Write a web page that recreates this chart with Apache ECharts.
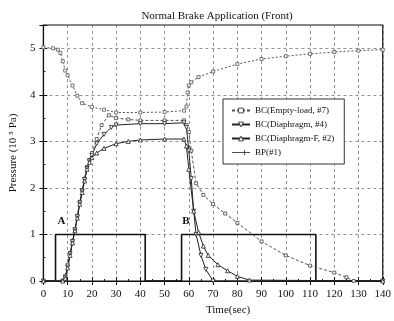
<!DOCTYPE html>
<html>
<head>
<meta charset="utf-8">
<script src="https://cdn.jsdelivr.net/npm/echarts@6/dist/echarts.min.js"></script>
<style>
  html, body { margin: 0; padding: 0; background: #fff; }
  #chart { width: 394px; height: 321px; }
</style>
</head>
<body>
<div id="chart"></div>
<script>
// time (sec) and pressure (10^5 Pa)
const tEmpty = [0, 8, 9, 10, 11, 12, 13, 14, 15, 16, 17, 18, 19, 20, 22, 24, 27, 30, 35, 40, 50, 58, 59, 60, 61, 63, 66, 70, 75, 80, 90, 100, 110, 120, 125, 128, 140];
const pEmpty = [0, 0, 0.1, 0.35, 0.6, 0.85, 1.1, 1.4, 1.7, 1.95, 2.2, 2.45, 2.6, 2.75, 3.05, 3.35, 3.56, 3.5, 3.47, 3.45, 3.45, 3.45, 3.35, 3.2, 2.8, 2.1, 1.85, 1.65, 1.45, 1.25, 0.85, 0.55, 0.33, 0.18, 0.08, 0, 0];

const tDia = [0, 8, 9, 10, 11, 12, 13, 14, 15, 16, 17, 18, 19, 20, 22, 25, 28, 30, 40, 50, 58, 59, 60, 61, 62, 63, 65, 67, 70, 140];
const pDia = [0, 0, 0.08, 0.3, 0.58, 0.85, 1.1, 1.38, 1.68, 1.93, 2.18, 2.42, 2.58, 2.7, 2.95, 3.15, 3.3, 3.35, 3.38, 3.38, 3.4, 3.3, 2.8, 2.2, 1.5, 1.0, 0.55, 0.25, 0, 0];

const tDiaF = [0, 8, 9, 10, 11, 12, 13, 14, 15, 16, 17, 18, 19, 20, 22, 25, 30, 35, 40, 50, 58, 59, 60, 62, 64, 66, 68, 72, 76, 80, 85, 140];
const pDiaF = [0, 0, 0.06, 0.28, 0.55, 0.82, 1.08, 1.35, 1.65, 1.9, 2.15, 2.4, 2.55, 2.65, 2.75, 2.85, 2.95, 3.0, 3.03, 3.05, 3.05, 2.9, 2.4, 1.5, 1.05, 0.75, 0.55, 0.35, 0.22, 0.1, 0.02, 0];

const tBP = [0, 4, 6, 7, 8, 9, 10, 12, 14, 16, 20, 25, 30, 40, 50, 58, 59, 59.5, 60, 61, 64, 70, 80, 90, 100, 110, 120, 130, 140];
const pBP = [5.02, 5.0, 4.97, 4.9, 4.72, 4.52, 4.42, 4.2, 3.98, 3.82, 3.74, 3.68, 3.62, 3.62, 3.63, 3.66, 3.75, 4.05, 4.2, 4.27, 4.38, 4.5, 4.66, 4.77, 4.83, 4.88, 4.92, 4.95, 4.97];

// brake command steps A and B
const tCmd = [0, 5, 5, 42, 42, 57, 57, 112.4, 112.4, 140];
const pCmd = [0, 0, 1, 1, 0, 0, 1, 1, 0, 0];

const xTicks = [0, 140, 10];
const yTicks = [0, 5.5, 1];

const pairs = (t, p) => t.map((x, i) => [x, p[i]]);

const font = 'Liberation Serif';
const chart = echarts.init(document.getElementById('chart'), null, { renderer: 'canvas' });

const lineSeries = (name, t, p, opts) => Object.assign({
  name,
  type: 'line',
  data: pairs(t, p),
  symbolSize: 4,
  showAllSymbol: true,
  itemStyle: { color: '#fff', borderColor: '#222', borderWidth: 0.8 },
  lineStyle: { color: '#222', width: 1 },
  color: '#222',
  z: 3
}, opts);

chart.setOption({
  animation: false,
  backgroundColor: '#fff',
  title: {
    text: 'Normal Brake Application (Front)',
    left: 212, top: 6, textAlign: 'center',
    textStyle: { fontFamily: font, fontSize: 11, fontWeight: 'normal', color: '#111' }
  },
  grid: { left: 42, right: 7, top: 25, bottom: 40, show: true, borderColor: '#111', borderWidth: 1.2 },
  legend: {
    orient: 'vertical', left: 223, top: 99,
    padding: [7, 10, 7, 8],
    itemGap: 5, itemWidth: 18, itemHeight: 6,
    backgroundColor: '#fff', borderColor: '#333', borderWidth: 1,
    itemStyle: { color: '#fff', borderColor: '#222', borderWidth: 0.8 },
    textStyle: { fontFamily: font, fontSize: 9, color: '#111' },
    data: ['BC(Empty-load, #7)', 'BC(Diaphragm, #4)', 'BC(Diaphragm-F, #2)',
      { name: 'BP(#1)', icon: 'path://M0,5 L20,5 M14,2 L14,8', itemStyle: { color: '#222', borderColor: '#222' } }]
  },
  xAxis: [{
    type: 'value', min: xTicks[0], max: xTicks[1], interval: xTicks[2],
    name: 'Time(sec)', nameLocation: 'middle', nameGap: 24,
    nameTextStyle: { fontFamily: font, fontSize: 11, color: '#111', padding: [0, 0, 0, 30] },
    axisLine: { lineStyle: { color: '#111', width: 1.2 } },
    axisTick: { inside: true, length: 4, lineStyle: { color: '#111' } },
    minorTick: { show: true, splitNumber: 2, length: 2, lineStyle: { color: '#111' } },
    axisLabel: { fontFamily: font, fontSize: 11, color: '#111', margin: 8 },
    splitLine: { show: true, lineStyle: { color: '#777', type: [3, 3], width: 0.8 } }
  }, {
    type: 'value', min: xTicks[0], max: xTicks[1], interval: xTicks[2], position: 'top',
    axisLine: { show: false },
    axisTick: { inside: true, length: 4, lineStyle: { color: '#111' } },
    axisLabel: { show: false }, splitLine: { show: false }
  }],
  yAxis: [{
    type: 'value', min: yTicks[0], max: yTicks[1], interval: yTicks[2],
    name: 'Pressure (10 \u2075 Pa)', nameLocation: 'middle', nameGap: 24,
    nameTextStyle: { fontFamily: font, fontSize: 11, color: '#111' },
    axisLine: { show: true, lineStyle: { color: '#111', width: 1.2 } },
    axisTick: { inside: true, length: 4, lineStyle: { color: '#111' } },
    minorTick: { show: true, splitNumber: 2, length: 2, lineStyle: { color: '#111' } },
    axisLabel: { fontFamily: font, fontSize: 11, color: '#111', margin: 8, showMaxLabel: false,
      formatter: v => (Number.isInteger(v) ? String(v) : '') },
    splitLine: { show: true, lineStyle: { color: '#777', type: [3, 3], width: 0.8 } }
  }, {
    type: 'value', min: yTicks[0], max: yTicks[1], interval: yTicks[2], position: 'right',
    axisLine: { show: false },
    axisTick: { inside: true, length: 4, lineStyle: { color: '#111' } },
    axisLabel: { show: false }, splitLine: { show: false }
  }],
  series: [
    lineSeries('BC(Empty-load, #7)', tEmpty, pEmpty, {
      symbol: 'rect', symbolSize: 3,
      lineStyle: { color: '#555', width: 1, type: [3, 2] },
      itemStyle: { color: '#fff', borderColor: '#444', borderWidth: 0.8 }
    }),
    lineSeries('BC(Diaphragm, #4)', tDia, pDia, { symbol: 'triangle', symbolRotate: 180, symbolSize: 4 }),
    lineSeries('BC(Diaphragm-F, #2)', tDiaF, pDiaF, { symbol: 'triangle', symbolSize: 4 }),
    lineSeries('BP(#1)', tBP, pBP, {
      symbol: 'rect', symbolSize: 3,
      lineStyle: { color: '#555', width: 1, type: [2, 2] },
      itemStyle: { color: '#fff', borderColor: '#555', borderWidth: 0.8 }
    }),
    {
      name: 'command',
      type: 'line',
      data: pairs(tCmd, pCmd),
      symbol: 'none',
      lineStyle: { color: '#111', width: 1.6 },
      z: 2,
      markPoint: {
        symbol: 'circle', symbolSize: 0,
        label: { show: true, fontFamily: font, fontWeight: 'bold', fontSize: 11, color: '#111',
          formatter: p => p.name },
        data: [
          { name: 'A', coord: [7.5, 1.28] },
          { name: 'B', coord: [58.8, 1.28] }
        ]
      }
    }
  ]
});
</script>
</body>
</html>
